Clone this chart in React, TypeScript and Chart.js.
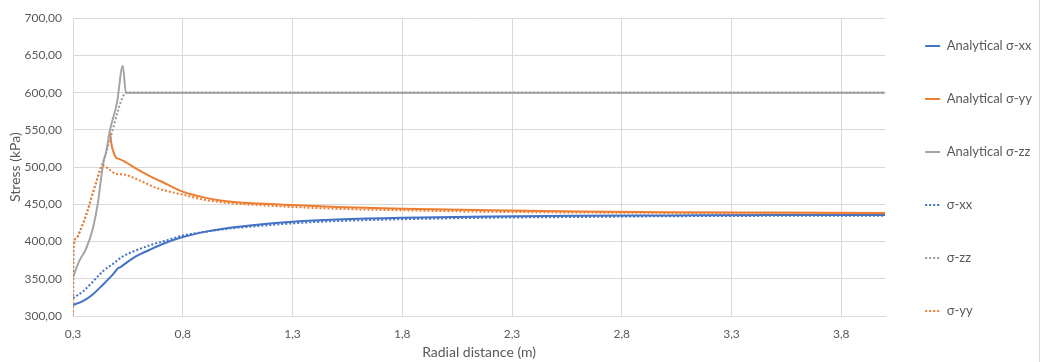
import { useEffect, useRef } from 'react';
import { Chart, registerables } from 'chart.js';

Chart.register(...registerables);

// Tick labels (x axis shows every 0.5 m starting at 0.3)
const xTickValues = [0.3, 0.8, 1.3, 1.8, 2.3, 2.8, 3.3, 3.8];
const seriesNames = ['Analytical σ-xx', 'Analytical σ-yy', 'Analytical σ-zz', 'σ-xx', 'σ-zz', 'σ-yy'];

// Analytical σ-xx
const anXXx = [0.3, 0.345, 0.39, 0.436, 0.482, 0.505, 0.518, 0.55, 0.586, 0.65, 0.72, 0.8, 0.9, 1.0, 1.15, 1.3, 1.5, 1.8, 2.2, 2.6, 3.0, 3.5, 4.0];
const anXXy = [315, 320, 329, 342, 356, 364, 366, 373, 380, 389, 398, 406, 413, 418, 423, 426.5, 429.5, 432, 433.5, 434.5, 435, 435.5, 435.5];

// Analytical σ-yy
const anYYx = [0.468, 0.477, 0.486, 0.495, 0.51, 0.532, 0.56, 0.6, 0.65, 0.7, 0.8, 0.9, 1.0, 1.15, 1.3, 1.5, 1.8, 2.2, 2.6, 3.0, 3.5, 4.0];
const anYYy = [547, 528, 519, 513, 511, 508, 503, 496, 488, 481, 467, 459, 454, 451, 449, 446.5, 444, 442, 440.5, 439.5, 439, 438.5];

// Analytical σ-zz
const anZZx = [0.3, 0.327, 0.359, 0.39, 0.414, 0.427, 0.441, 0.45, 0.468, 0.5, 0.527, 0.541, 1.0, 2.0, 3.0, 4.0];
const anZZy = [352, 373, 390, 417, 453, 483, 510, 519, 549, 586, 636, 600, 600, 600, 600, 600];

// Numerical σ-xx
const numXXx = [0.3, 0.345, 0.39, 0.436, 0.482, 0.527, 0.586, 0.65, 0.72, 0.8, 0.9, 1.0, 1.15, 1.3, 1.5, 1.8, 2.2, 2.6, 3.0, 3.5, 4.0];
const numXXy = [324, 333, 346, 360, 370, 380, 388, 395, 401, 408, 413, 417, 421, 424.5, 427.5, 430, 432, 433, 434, 434.5, 434.5];

// Numerical σ-zz
const numZZx = [0.3, 0.302, 0.314, 0.336, 0.359, 0.382, 0.405, 0.427, 0.45, 0.468, 0.545, 1.0, 2.0, 3.0, 4.0];
const numZZy = [300, 390, 404, 417, 435, 457, 479, 499, 518, 537, 600, 600, 600, 600, 600];

// Numerical σ-yy
const numYYx = [0.3, 0.302, 0.314, 0.336, 0.359, 0.382, 0.405, 0.427, 0.436, 0.464, 0.495, 0.532, 0.573, 0.62, 0.68, 0.8, 0.9, 1.0, 1.15, 1.3, 1.5, 1.8, 2.2, 2.6, 3.0, 3.5, 4.0];
const numYYy = [300, 390, 404, 417, 435, 457, 479, 499, 502, 497, 491, 490, 486, 480, 472, 463, 456, 452, 449, 446.5, 444, 442, 440, 439, 438.5, 438, 438];

const BLUE = '#4472C4';
const ORANGE = '#ED7D31';
const GRAY = '#A5A5A5';
const GRAY_DOT = '#9a9a9a';
const TEXT = '#595959';
const GRID = '#d9d9d9';
const FONT = 'Lato, "Liberation Sans", sans-serif';

const toPoints = (xs: number[], ys: number[]) => xs.map((x, i) => ({ x, y: ys[i] }));

export default function App() {
  const ref = useRef<HTMLCanvasElement>(null);

  useEffect(() => {
    if (!ref.current) return;
    const series = [
      { xs: anXXx, ys: anXXy, color: BLUE, dash: [] as number[] },
      { xs: anYYx, ys: anYYy, color: ORANGE, dash: [] as number[] },
      { xs: anZZx, ys: anZZy, color: GRAY, dash: [] as number[] },
      { xs: numXXx, ys: numXXy, color: BLUE, dash: [2, 2] },
      { xs: numZZx, ys: numZZy, color: GRAY_DOT, dash: [2, 2] },
      { xs: numYYx, ys: numYYy, color: ORANGE, dash: [2, 2] },
    ];
    const defaultLabels = Chart.defaults.plugins.legend.labels.generateLabels;
    const chart = new Chart(ref.current, {
      type: 'line',
      data: {
        datasets: series.map((s, i) => ({
          label: seriesNames[i],
          data: toPoints(s.xs, s.ys),
          borderColor: s.color,
          backgroundColor: s.color,
          borderWidth: 2,
          borderDash: s.dash,
          pointRadius: 0,
          cubicInterpolationMode: 'monotone' as const,
          fill: false,
          order: series.length - 1 - i,
        })),
      },
      options: {
        responsive: false,
        animation: false,
        layout: { padding: { top: -5, left: 0, right: 0, bottom: 0 } },
        plugins: {
          title: {
            display: true,
            text: '',
            fullSize: false,
            padding: 0,
            font: { size: 10, lineHeight: '19px' },
          },
          legend: {
            position: 'right',
            align: 'center',
            labels: {
              usePointStyle: true,
              pointStyle: 'line',
              pointStyleWidth: 15,
              padding: 40,
              color: TEXT,
              font: { family: FONT, size: 13 },
              sort: (a: any, b: any) => a.datasetIndex - b.datasetIndex,
              generateLabels: (c: any) =>
                defaultLabels(c).map((item: any) => {
                  const ds = c.data.datasets[item.datasetIndex];
                  return {
                    ...item,
                    lineDash: ds.borderDash,
                    strokeStyle: ds.borderColor,
                    lineWidth: 2,
                    pointStyle: 'line',
                  };
                }),
            },
          },
          tooltip: { enabled: false },
        },
        scales: {
          x: {
            type: 'linear',
            min: 0.3,
            max: 4.0,
            afterBuildTicks: (scale: any) => {
              scale.ticks = xTickValues.map((v) => ({ value: v }));
            },
            afterFit: (scale: any) => {
              scale.height = 46;
            },
            ticks: {
              color: TEXT,
              font: { family: FONT, size: 12 },
              padding: 11,
              maxRotation: 0,
              autoSkip: false,
              callback: (v: any) => Number(v).toFixed(1).replace('.', ','),
            },
            grid: { color: GRID, drawTicks: false },
            border: { color: GRID },
            title: {
              display: true,
              text: 'Radial distance (m)',
              color: TEXT,
              font: { family: FONT, size: 14 },
              padding: { top: 0, bottom: 1 },
            },
          },
          y: {
            type: 'linear',
            min: 300,
            max: 700,
            afterFit: (scale: any) => {
              scale.width = 73;
            },
            ticks: {
              stepSize: 50,
              color: TEXT,
              font: { family: FONT, size: 12 },
              padding: 11,
              callback: (v: any) => Number(v).toFixed(2).replace('.', ','),
            },
            grid: { color: GRID, drawTicks: false },
            border: { color: GRID },
            title: {
              display: true,
              text: 'Stress (kPa)',
              color: TEXT,
              font: { family: FONT, size: 14 },
              padding: { top: 7, bottom: 0 },
            },
          },
        },
      },
    });
    return () => chart.destroy();
  }, []);

  return (
    <div style={{ position: 'absolute', left: 0, top: 0, width: 1042, height: 362, background: '#fff' }}>
      <canvas ref={ref} width={1042} height={362} style={{ display: 'block', width: 1042, height: 362 }} />
      <div style={{ position: 'absolute', left: 1039, top: 0, width: 1, height: 362, background: GRID }} />
    </div>
  );
}
